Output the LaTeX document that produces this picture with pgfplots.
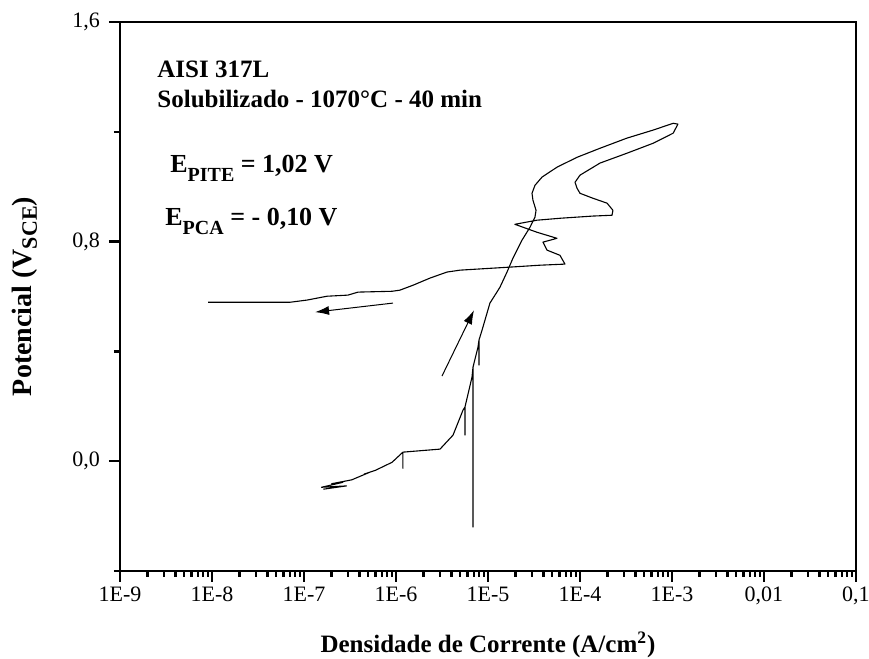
\documentclass[border=0pt]{standalone}
\usepackage{pgfplots}
\pgfplotsset{compat=1.18}
\usepackage{fontspec}
\setmainfont{Liberation Serif}
\usetikzlibrary{arrows.meta}

\begin{document}
\begin{tikzpicture}
\begin{axis}[
  scale only axis,
  width=368pt, height=274.5pt,
  xmode=log,
  xmin=1e-9, xmax=0.1,
  ymin=-0.4, ymax=1.6,
  axis line style={line width=1.4pt},
  xtick={1e-9,1e-8,1e-7,1e-6,1e-5,1e-4,1e-3,1e-2,1e-1},
  xticklabels={1E-9,1E-8,1E-7,1E-6,1E-5,1E-4,1E-3,{0,01},{0,1}},
  ytick={0,0.8,1.6},
  yticklabels={{0,0},{0,8},{1,6}},
  minor ytick={-0.4,0.4,1.2},
  tick align=outside,
  xtick pos=bottom, ytick pos=left,
  major tick length=5.5pt, minor tick length=3pt,
  every tick/.style={line width=1.2pt, black},
  tick label style={font=\fontsize{11}{13}\selectfont},
  xticklabel style={yshift=1pt},
  yticklabel style={xshift=-1pt},
  xlabel={\textbf{Densidade de Corrente (A/cm\textsuperscript{2})}},
  ylabel={\textbf{Potencial (V\raisebox{-2.5pt}{\fontsize{11}{13}\selectfont SCE})}},
  xlabel style={font=\fontsize{12.5}{15}\selectfont, at={(axis description cs:0.5,-0.135)}, anchor=center},
  ylabel style={font=\fontsize{14}{16}\selectfont, at={(axis description cs:-0.129,0.5)}, anchor=center},
  clip=true,
]
% potentiodynamic cyclic polarisation curve
\addplot[black, line width=0.55pt, line join=round] coordinates {
(1.62e-7,-0.102) (2.9e-7,-0.090) (1.55e-7,-0.095) (2.65e-7,-0.077)
(2.0e-7,-0.082) (3.3e-7,-0.068) (5.21e-7,-0.040) (4.5e-7,-0.047)
(6.0e-7,-0.033) (9.06e-7,-0.004) (1.19e-6,0.033) (1.19e-6,-0.026)
(1.19e-6,0.033) (3.01e-6,0.044) (4.17e-6,0.095) (5.35e-6,0.186)
(5.62e-6,0.197) (5.62e-6,0.095) (5.62e-6,0.197) (6.70e-6,0.306)
(6.87e-6,0.342) (6.87e-6,-0.240) (6.87e-6,0.342) (7.78e-6,0.415)
(7.98e-6,0.441) (7.98e-6,0.350) (7.98e-6,0.441) (8.61e-6,0.477)
(1.05e-5,0.576) (1.25e-5,0.616) (1.35e-5,0.634) (1.61e-5,0.689)
(1.87e-5,0.740) (2.34e-5,0.805) (2.86e-5,0.852) (3.24e-5,0.889)
(3.33e-5,0.914) (3.08e-5,0.951) (3.01e-5,0.976) (3.24e-5,1.005)
(3.87e-5,1.035) (5.62e-5,1.071) (9.27e-5,1.107) (1.65e-4,1.140)
(3.24e-4,1.177) (6.21e-4,1.206) (1.03e-3,1.231) (1.16e-3,1.228)
(1.03e-3,1.195) (6.21e-4,1.158) (3.24e-4,1.122) (1.65e-4,1.086)
(1.0e-4,1.042) (8.83e-5,1.016) (9.27e-5,0.995) (1.0e-4,0.976)
(1.38e-4,0.958) (1.97e-4,0.940) (2.28e-4,0.914) (2.23e-4,0.896)
(1.38e-4,0.893) (6.06e-5,0.885) (3.41e-5,0.878) (1.96e-5,0.863)
(3.41e-5,0.834) (5.62e-5,0.812) (3.96e-5,0.798) (4.38e-5,0.769)
(6.06e-5,0.750) (6.87e-5,0.718) (3.67e-5,0.714) (1.73e-5,0.707)
(4.97e-6,0.696) (3.58e-6,0.689) (2.34e-6,0.667) (1.53e-6,0.641)
(1.10e-6,0.623) (9.06e-7,0.619) (3.87e-7,0.616) (3.0e-7,0.605)
(1.78e-7,0.601) (1.08e-7,0.587) (7.04e-8,0.579) (5.09e-8,0.579)
(9.06e-9,0.579)
};
% scan direction arrows
\draw[black, line width=0.5pt, -{Latex[length=7pt,width=4.5pt]}]
  (axis cs:9.27e-7,0.576) -- (axis cs:1.32e-7,0.543);
\draw[black, line width=0.5pt, -{Latex[length=7pt,width=4.5pt]}]
  (axis cs:3.16e-6,0.310) -- (axis cs:7.05e-6,0.550);
% annotations
\node[anchor=base west, font=\fontsize{12.5}{15}\selectfont\bfseries, inner sep=0pt]
  at (rel axis cs:0.0503,0.8998) {AISI 317L};
\node[anchor=base west, font=\fontsize{12.5}{15}\selectfont\bfseries, inner sep=0pt]
  at (rel axis cs:0.0503,0.8434) {Solubilizado - 1070°C - 40 min};
\node[anchor=base west, font=\fontsize{13}{15}\selectfont\bfseries, inner sep=0pt]
  at (rel axis cs:0.0679,0.7250) {E\raisebox{-4.5pt}{\fontsize{10}{12}\selectfont PITE} = 1,02 V};
\node[anchor=base west, font=\fontsize{13}{15}\selectfont\bfseries, inner sep=0pt]
  at (rel axis cs:0.0611,0.6302) {E\raisebox{-4.5pt}{\fontsize{10}{12}\selectfont PCA} = - 0,10 V};
\coordinate (bl) at (rel axis cs:0,0);
\coordinate (tr) at (rel axis cs:1,1);
\end{axis}
\pgfresetboundingbox
\path ([shift={(-60pt,-44pt)}]bl) rectangle ([shift={(6.5pt,11pt)}]tr);
\end{tikzpicture}
\end{document}
